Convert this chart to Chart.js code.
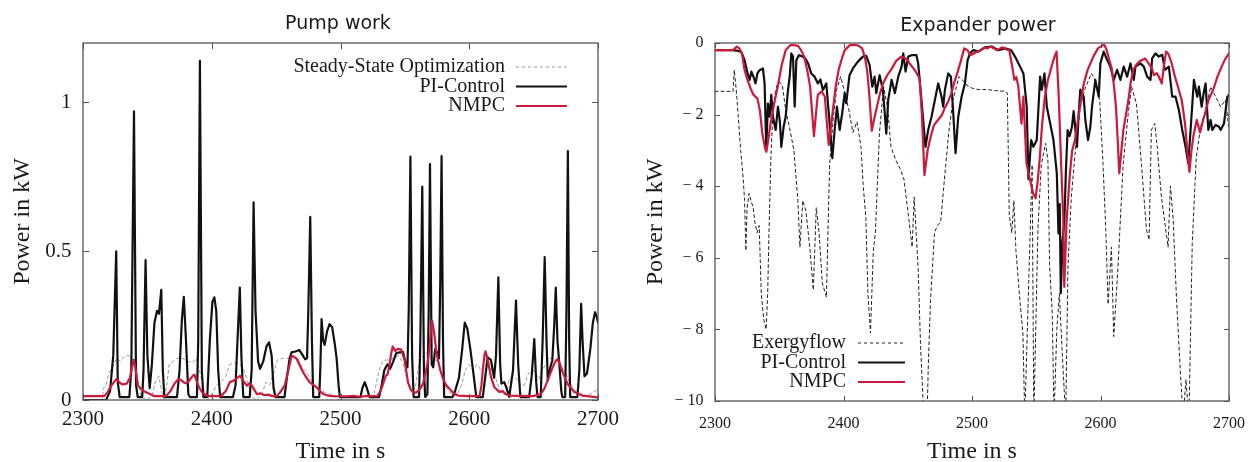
<!DOCTYPE html>
<html>
<head>
<meta charset="utf-8">
<script src="https://cdn.jsdelivr.net/npm/chart.js@4.4.1/dist/chart.umd.min.js"></script>
<style>
  html, body { margin: 0; padding: 0; background: #fff; overflow: hidden; width: 1255px; height: 462px; }
  #pump { position: absolute; left: 0; top: 0; }
  #expander { position: absolute; left: 620px; top: 0; }
</style>
</head>
<body>
<canvas id="pump" width="640" height="462"></canvas>
<canvas id="expander" width="640" height="462"></canvas>
<script>
// time axis and tick values
const timeTicks = [2300, 2400, 2500, 2600, 2700];
const pumpTicks = [0, 0.5, 1];
const expanderTicks = [-10, -8, -6, -4, -2, 0];

// Pump work [time s, kW]
const pumpSteady = [
  [2300,0],[2315,0],[2316,0.04],[2318,0.05],[2320,0.09],[2323,0.11],[2326,0.14],[2329,0.13],[2332,0.146],
  [2335,0.15],[2338,0.14],[2341,0.12],[2343,0.06],[2345,0.01],[2350,0],[2354,0.02],[2356,0.06],[2359,0.08],
  [2361,0.03],[2363,0],[2365,0.05],[2367,0.12],[2370,0.13],[2373,0.14],[2377,0.14],[2381,0.13],[2385,0.125],
  [2388,0.14],[2391,0.09],[2394,0.03],[2397,0],[2400,0.02],[2404,0.05],[2408,0.065],[2411,0.08],[2414,0.12],
  [2418,0.125],[2422,0.12],[2425,0.1],[2428,0.06],[2431,0.01],[2435,0],[2439,0.02],[2442,0.06],[2445,0.05],
  [2448,0.09],[2451,0.135],[2455,0.14],[2459,0.14],[2463,0.145],[2467,0.14],[2470,0.11],[2474,0.09],[2478,0.06],
  [2482,0.04],[2486,0.03],[2490,0.02],[2494,0.02],[2498,0],[2525,0],[2527,0.04],[2530,0.1],[2533,0.133],
  [2537,0.135],[2541,0.14],[2545,0.15],[2549,0.12],[2552,0.06],[2555,0.03],[2558,0.04],[2561,0.12],[2563,0.14],
  [2566,0.16],[2569,0.15],[2573,0.135],[2576,0.13],[2579,0.08],[2582,0.04],[2587,0.015],[2590,0.015],[2594,0.05],
  [2597,0.1],[2600,0.12],[2603,0.1],[2606,0.12],[2609,0.1],[2613,0.12],[2616,0.11],[2620,0.08],[2624,0.03],
  [2628,0.02],[2631,0.07],[2634,0.08],[2637,0.07],[2640,0.05],[2643,0.05],[2646,0.09],[2650,0.1],[2654,0.07],
  [2658,0.11],[2662,0.14],[2666,0.14],[2670,0.12],[2674,0.1],[2678,0.06],[2682,0.03],[2688,0.01],[2694,0.02],
  [2698,0.03],[2700,0.04]
];
const pumpPi = [
  [2300,0],[2318,0],[2321,0.03],[2323.5,0.15],[2325.8,0.5],[2327,0.06],[2328.5,0.01],[2336,0.01],[2337.5,0.1],
  [2339.6,0.97],[2341.2,0.05],[2342.5,0.01],[2346,0.01],[2347,0.1],[2348.6,0.47],[2350,0.15],[2351.8,0.04],
  [2353.5,0.12],[2355.5,0.26],[2357.5,0.3],[2359,0.29],[2360.8,0.37],[2362,0.1],[2363.2,0.01],[2373,0.01],
  [2375,0.1],[2376.8,0.27],[2378.3,0.347],[2380,0.2],[2381.8,0.02],[2383,0.01],[2388.5,0.01],[2389.5,0.2],
  [2390.8,1.14],[2392.3,0.1],[2393.5,0.01],[2396.5,0.01],[2398.5,0.2],[2400.5,0.33],[2402,0.345],[2403.5,0.3],
  [2405,0.1],[2406.5,0.01],[2416.5,0.01],[2418.5,0.05],[2420,0.2],[2421.8,0.378],[2423,0.15],[2424.5,0.01],
  [2429.5,0.01],[2431,0.1],[2432.5,0.664],[2434,0.3],[2436,0.13],[2437.5,0.105],[2440,0.13],[2442.5,0.18],
  [2444.5,0.194],[2446.5,0.15],[2448,0.04],[2449.5,0.01],[2456.5,0.01],[2458.5,0.08],[2460.5,0.14],[2462,0.16],
  [2465,0.163],[2468,0.168],[2470,0.155],[2472.5,0.137],[2474,0.14],[2475,0.3],[2476.5,0.616],[2477.8,0.2],
  [2478.8,0.01],[2483.5,0.01],[2484.3,0.1],[2485.3,0.272],[2486.5,0.2],[2487.7,0.185],[2489.5,0.23],
  [2491.5,0.255],[2493.5,0.245],[2495.5,0.19],[2497,0.14],[2498.5,0.05],[2499.5,0.01],[2515.5,0.01],
  [2517,0.04],[2518.8,0.06],[2520.5,0.04],[2522.5,0.01],[2530,0.01],[2532,0.05],[2534,0.1],[2536.5,0.12],
  [2538.5,0.105],[2541,0.13],[2543.3,0.158],[2546,0.16],[2548.5,0.162],[2550.5,0.125],[2552,0.11],[2553,0.3],
  [2554.3,0.818],[2555.6,0.15],[2556.8,0.01],[2561,0.01],[2562,0.2],[2563.5,0.717],[2564.8,0.1],[2565.8,0.01],
  [2567.5,0.02],[2568.5,0.3],[2569.5,0.793],[2570.8,0.12],[2572,0.11],[2573.5,0.17],[2575,0.16],[2576.5,0.14],
  [2577.5,0.4],[2578.5,0.82],[2579.6,0.2],[2580.5,0.01],[2587,0.01],[2589,0.03],[2592,0.075],[2594.5,0.17],
  [2596.5,0.26],[2598.5,0.24],[2601,0.166],[2603.5,0.08],[2605.5,0.01],[2610.5,0.01],[2612.5,0.08],
  [2614.3,0.143],[2616.8,0.135],[2619.3,0.075],[2620.8,0.15],[2622.6,0.412],[2624,0.12],[2625,0.055],
  [2627.2,0.06],[2629,0.04],[2631,0.01],[2634,0.1],[2636.3,0.334],[2638,0.12],[2639.7,0.01],[2646.5,0.01],
  [2648.5,0.08],[2650.5,0.205],[2652,0.06],[2653,0.01],[2655.5,0.01],[2657,0.2],[2658.6,0.48],[2660,0.2],
  [2661,0.066],[2663,0.11],[2664.5,0.133],[2666,0.25],[2667.2,0.378],[2668.5,0.2],[2670,0.12],[2671.5,0.03],
  [2672.3,0.01],[2674.5,0.01],[2675.5,0.3],[2676.6,0.837],[2677.6,0.2],[2678.4,0.01],[2684,0.01],[2685.5,0.1],
  [2686.9,0.323],[2688,0.2],[2689.5,0.08],[2691.5,0.09],[2694,0.17],[2696,0.26],[2697.7,0.295],[2699,0.28],
  [2700,0.26]
];
const pumpNmpc = [
  [2300,0.013],[2316.5,0.013],[2319,0.025],[2321.5,0.045],[2324,0.06],[2326,0.071],[2328.5,0.058],[2331,0.052],
  [2334,0.055],[2336.5,0.075],[2338,0.11],[2339.5,0.135],[2341,0.1],[2342.5,0.05],[2344.5,0.04],[2347,0.03],
  [2349,0.026],[2352,0.02],[2355.5,0.013],[2364.5,0.013],[2368,0.03],[2371,0.055],[2374,0.07],[2376,0.068],
  [2378,0.06],[2380,0.056],[2382.5,0.065],[2385,0.08],[2386.5,0.085],[2388.5,0.06],[2390.5,0.04],[2392.5,0.026],
  [2395,0.018],[2398,0.013],[2407,0.013],[2411,0.03],[2414,0.06],[2417,0.065],[2420,0.075],[2422,0.081],
  [2424.5,0.065],[2427.3,0.048],[2429,0.055],[2431,0.05],[2433,0.035],[2435,0.02],[2438,0.022],[2441,0.016],
  [2444,0.018],[2447,0.013],[2450.5,0.013],[2453,0.025],[2456.8,0.05],[2459.5,0.1],[2462,0.149],[2464,0.145],
  [2466,0.138],[2468.5,0.115],[2471,0.093],[2473.5,0.075],[2476,0.06],[2479,0.05],[2481.5,0.043],[2484,0.03],
  [2486.7,0.02],[2490,0.015],[2494.5,0.013],[2505,0.012],[2510,0.014],[2515,0.011],[2520,0.013],[2528.5,0.013],
  [2531,0.03],[2532.8,0.05],[2535,0.08],[2536.5,0.085],[2538,0.117],[2539.5,0.16],[2540.6,0.18],[2542.5,0.165],
  [2544.5,0.172],[2547,0.17],[2549.8,0.134],[2551,0.1],[2552.4,0.06],[2554.5,0.035],[2556.3,0.027],[2558.5,0.025],
  [2560.2,0.03],[2562.5,0.042],[2564.1,0.055],[2566,0.09],[2568,0.132],[2569.5,0.2],[2571.1,0.267],[2572.2,0.24],
  [2573.2,0.21],[2574.5,0.16],[2575.8,0.132],[2577.5,0.1],[2579.7,0.071],[2582,0.05],[2584.8,0.037],[2588,0.022],
  [2591.3,0.015],[2599,0.013],[2608,0.013],[2609.5,0.05],[2610.5,0.1],[2611.8,0.15],[2612.6,0.164],[2613.5,0.15],
  [2614.5,0.131],[2616.9,0.077],[2619.5,0.043],[2621.5,0.035],[2623.4,0.027],[2626,0.03],[2628,0.02],
  [2631.1,0.015],[2640,0.014],[2649.3,0.013],[2655.7,0.02],[2658.5,0.04],[2660.9,0.066],[2664.8,0.11],
  [2667,0.13],[2668.7,0.138],[2670.5,0.12],[2672.6,0.093],[2676.4,0.054],[2681.6,0.027],[2688,0.015],[2700,0.009]
];

// Expander power [time s, kW]
const expExergy = [
  [2300,-1.35],[2314,-1.35],[2315,-0.75],[2316.5,-1.3],[2318,-2],[2320,-3],[2322,-3.8],[2323,-4.4],[2324,-5.8],
  [2325,-4.6],[2326.5,-4.2],[2328,-4.4],[2329.7,-4.6],[2331,-5],[2332.8,-5.3],[2334.4,-5.1],[2336,-7],
  [2338,-7.74],[2339.8,-8],[2341,-7],[2342,-5.3],[2343.6,-3.1],[2345,-2],[2346.8,-1.4],[2348.5,-1.15],
  [2350.5,-1.1],[2352.5,-1.2],[2355,-1.87],[2358.2,-2.4],[2361.4,-3],[2364.5,-4.4],[2366.1,-5.7],[2368.3,-4.4],
  [2370.8,-4.7],[2374,-5.8],[2376.5,-6.9],[2378.8,-4.6],[2381,-5.3],[2383.5,-6.7],[2386.7,-7.1],[2389.2,-3.4],
  [2392.1,-2.06],[2394.6,-1.31],[2397.8,-0.94],[2401,-1.4],[2404.2,-1.87],[2407.3,-2.5],[2410.5,-2.2],
  [2413.6,-2.9],[2415.2,-3.9],[2417.4,-4.9],[2419,-7],[2421,-8.1],[2423.2,-5.8],[2424.8,-5.3],[2428,-2.5],
  [2431.2,-1.22],[2434.3,-1.78],[2436.9,-2.9],[2440.7,-3.27],[2443.9,-3.5],[2447,-3.8],[2450.8,-4.9],
  [2453.4,-5.7],[2455,-4.3],[2458.1,-6.3],[2460,-8.5],[2461.3,-9.5],[2462.5,-10.5],[2465,-10.5],[2466,-9],
  [2467.7,-7.2],[2470.8,-5.3],[2473,-5.1],[2475.6,-5],[2478.8,-3.7],[2481.9,-2.5],[2485.1,-1.6],[2489.9,-0.94],
  [2493,-1.05],[2497.1,-1.22],[2500.9,-1.27],[2505,-1.3],[2512,-1.3],[2518,-1.33],[2526.2,-1.35],[2527.5,-1.4],
  [2529,-4.8],[2531,-5.3],[2532.6,-4.4],[2534.2,-5.8],[2537.3,-7.2],[2539.6,-8.1],[2541.1,-10.5],[2543.7,-7.2],
  [2546.8,-3.4],[2548.1,-10.5],[2551.3,-5.2],[2553.9,-3.4],[2557.3,-2.8],[2559.1,-3.3],[2560.4,-6.2],
  [2562.5,-7.6],[2563.8,-10.5],[2566,-8],[2568,-7],[2570,-8.5],[2572.9,-10.5],[2574.7,-6.2],[2577.3,-4.3],
  [2580.7,-2.9],[2584.3,-1.78],[2587.7,-1.3],[2592.9,-0.85],[2595.5,-1],[2599.4,-1.6],[2602,-3.4],[2604.1,-5.2],
  [2605.9,-7.3],[2608.5,-5.7],[2610.3,-8.2],[2613.7,-6.2],[2617.6,-3.4],[2621.5,-2],[2624.1,-1.22],[2628,-1.7],
  [2631.9,-3.4],[2635.7,-5.2],[2637.8,-5.5],[2639.6,-2.43],[2642.2,-2.25],[2644.1,-2.9],[2647.4,-4.3],
  [2650,-5],[2652.6,-5.7],[2654.4,-4],[2656.5,-4.9],[2659.1,-7.1],[2661.7,-8.9],[2664.3,-10.5],[2666.5,-9.4],
  [2668.8,-10.5],[2671.4,-5.6],[2674.5,-3.2],[2677.9,-2.34],[2681.8,-1.87],[2685.7,-1.22],[2689.6,-1.5],
  [2693.5,-1.78],[2697.4,-1.59],[2700,-2.43]
];
const expPi = [
  [2300,-0.2],[2314,-0.2],[2318,-0.22],[2320.5,-0.25],[2323,-0.48],[2325.7,-0.9],[2327,-1.03],[2328.3,-0.8],
  [2330,-0.95],[2331.5,-1.13],[2333,-0.85],[2334.7,-0.76],[2337.3,-0.71],[2338.6,-1.13],[2339.9,-2.95],
  [2341.2,-1.69],[2342.5,-2.06],[2343.8,-1.45],[2345.1,-2.06],[2347.2,-2.43],[2349,-1.78],[2350.5,-2.2],
  [2351.6,-2.9],[2353.4,-2.34],[2355,-2.06],[2356.8,-1.31],[2358.1,-0.95],[2359.4,-0.29],[2360.7,-0.38],
  [2362,-1.78],[2363.3,-0.48],[2365.3,-0.34],[2368.5,-0.38],[2370.5,-0.45],[2372.4,-0.57],[2374.9,-0.85],
  [2377.5,-0.94],[2380.1,-1.13],[2382,-1.02],[2384,-1.31],[2386.6,-1.13],[2389.2,-2.24],[2391.3,-3.22],
  [2393.1,-2.43],[2394.9,-1.78],[2397,-2.43],[2399,-1.96],[2400.9,-1.4],[2402.1,-1.68],[2404.7,-0.9],
  [2407.3,-0.71],[2411.2,-0.52],[2415.1,-0.38],[2417.7,-0.36],[2420.3,-0.61],[2422.4,-1.22],[2424.2,-0.94],
  [2425.5,-1.4],[2428.1,-0.9],[2430.7,-1.31],[2433.3,-2.53],[2434.8,-1.59],[2437.4,-1.03],[2440,-1.4],
  [2442.6,-0.94],[2445.2,-0.66],[2446.5,-0.29],[2448.3,-0.8],[2450.4,-0.38],[2453,-0.34],[2456.8,-0.34],
  [2458.1,-0.57],[2460.2,-1.4],[2462,-2.15],[2463.8,-2.9],[2465.9,-2.43],[2468.5,-2.06],[2471.1,-1.59],
  [2473.7,-1.13],[2476.3,-1.5],[2477.6,-1.78],[2478.9,-1.31],[2481.5,-0.85],[2483.6,-0.94],[2485.4,-1.96],
  [2487.2,-3.08],[2489.3,-2.06],[2491.9,-1.5],[2494.5,-1.13],[2496.6,-0.48],[2498.4,-0.29],[2501,-0.2],
  [2504.9,-0.24],[2507.5,-0.18],[2510.1,-0.12],[2515.3,-0.1],[2520.5,-0.2],[2525.7,-0.15],[2530.4,-0.2],
  [2533.5,-0.38],[2537.4,-0.66],[2540,-0.85],[2542.6,-1.78],[2543.9,-3.8],[2546,-2.71],[2547.8,-2.9],
  [2550.4,-2.71],[2553,-0.94],[2554.3,-1.31],[2556.4,-0.85],[2558.2,-1.78],[2560.8,-2.24],[2563.4,-2.71],
  [2566,-3.64],[2567.3,-5.32],[2568.3,-4.5],[2569.1,-6.99],[2570.5,-5.5],[2571.8,-5.04],[2573.1,-3.55],
  [2574.4,-2.43],[2576,-2.6],[2577.8,-2.34],[2579.1,-1.9],[2580.4,-2.4],[2581.7,-2.9],[2583,-2],[2584.3,-1.3],
  [2586.9,-1.5],[2588.2,-2.15],[2590.3,-2.71],[2592.1,-2.34],[2593.4,-1.78],[2596,-1.03],[2598.6,-1.5],
  [2599.9,-0.57],[2602.5,-0.24],[2605.1,-0.47],[2607.7,-0.66],[2610.3,-1.03],[2612.9,-0.75],[2615.5,-1.03],
  [2618.1,-0.66],[2620.7,-0.94],[2623.3,-0.57],[2625.9,-1.03],[2627.2,-0.66],[2631.1,-0.57],[2633.7,-0.66],
  [2636.3,-0.94],[2638.9,-1.03],[2640.2,-0.43],[2642.8,-0.29],[2645.4,-0.38],[2648,-0.33],[2650.1,-0.75],
  [2653.2,-0.66],[2655.8,-1.5],[2658.4,-1.5],[2661,-1.87],[2663.6,-2.43],[2666.2,-2.9],[2668.3,-3.36],
  [2670.1,-2.43],[2672.7,-1.03],[2675.3,-1.5],[2676.6,-1.22],[2678.7,-1.78],[2680.5,-1.35],[2681.8,-1.13],
  [2683.9,-2.43],[2685.7,-2.15],[2687,-2.43],[2689.6,-2.29],[2692.2,-2.34],[2693.5,-2.43],[2696.1,-2.25],
  [2698.7,-1.5],[2700,-1.45]
];
const expNmpc = [
  [2300,-0.2],[2314,-0.2],[2317,-0.1],[2319,-0.15],[2321,-0.3],[2323,-0.75],[2325.3,-1.03],[2328,-1.3],
  [2330,-1.45],[2333,-1.55],[2335,-1.9],[2336.8,-2.52],[2339,-2.95],[2340,-3.04],[2341.5,-2.7],[2343,-2.3],
  [2346,-1.7],[2348.8,-1.22],[2352,-0.6],[2355,-0.2],[2358,-0.08],[2360,-0.05],[2364.6,-0.08],[2367,-0.2],
  [2369.4,-0.38],[2372,-0.8],[2374,-1.22],[2375.5,-1.9],[2377,-2.6],[2378.5,-2],[2380,-1.45],[2383,-1.35],
  [2385.5,-1.5],[2387,-2.2],[2388.5,-2.85],[2390,-2.4],[2392,-1.8],[2394,-1.2],[2396.2,-0.75],[2399,-0.4],
  [2401,-0.2],[2405,-0.06],[2409,-0.05],[2412,-0.08],[2414.5,-0.15],[2416.7,-0.4],[2418.5,-0.8],[2420,-1.41],
  [2422,-2.45],[2424,-2.1],[2426,-1.78],[2428.5,-1.4],[2430.8,-1.13],[2434,-0.9],[2437,-0.75],[2441,-0.5],
  [2445,-0.38],[2447.5,-0.42],[2449.7,-0.46],[2452,-0.6],[2454.5,-0.71],[2457,-0.85],[2459.2,-0.99],[2461,-2],
  [2463,-3.69],[2465.5,-2.99],[2468,-2.6],[2470.3,-2.3],[2473.5,-2.15],[2476.6,-2.01],[2479,-1.8],
  [2481.4,-1.64],[2484,-1.4],[2486,-1.13],[2488.5,-0.85],[2490.8,-0.57],[2494,-0.15],[2496.5,-0.2],
  [2498.7,-0.34],[2501,-0.3],[2503.5,-0.25],[2507,-0.2],[2509.8,-0.13],[2512,-0.15],[2514.5,-0.1],[2517,-0.15],
  [2519.3,-0.2],[2522,-0.15],[2524,-0.12],[2526.5,-0.18],[2529,-0.2],[2531,-0.6],[2533,-1.03],[2534.5,-0.95],
  [2536,-1.2],[2538.5,-2.25],[2540,-1.5],[2542.4,-3.36],[2545,-3.8],[2547.5,-4.2],[2549.5,-4.34],[2551,-3.9],
  [2552.8,-3.18],[2554.5,-2.3],[2556.7,-1.5],[2559,-1.05],[2561.9,-0.66],[2564,-0.4],[2565.8,-0.24],
  [2567.5,-1.5],[2569.5,-3.5],[2571,-4.86],[2571.8,-6.81],[2573.6,-5],[2576.2,-3.64],[2578,-3],[2580.1,-2.71],
  [2584,-1.78],[2587,-1.13],[2590,-0.75],[2594.4,-0.38],[2598,-0.15],[2600.9,-0.08],[2603,-0.05],[2604.8,-0.2],
  [2607,-0.5],[2608.7,-0.7],[2610.5,-1.2],[2612.1,-1.82],[2613.5,-2.8],[2614.6,-3.64],[2616,-3.1],
  [2617.8,-2.43],[2619.8,-2],[2621.7,-1.6],[2623.5,-1.1],[2625.6,-0.75],[2628,-0.6],[2630.8,-0.5],
  [2634.7,-0.43],[2637,-0.55],[2639.9,-0.7],[2641.5,-0.9],[2643.8,-0.84],[2645.5,-0.95],[2647.7,-1.13],
  [2649.5,-0.6],[2651,-0.24],[2652.8,-0.3],[2655.4,-0.57],[2658,-0.95],[2660.5,-1.25],[2663.2,-1.6],
  [2665.8,-2.25],[2667.5,-3],[2669.2,-3.6],[2670.8,-3],[2672.3,-2.6],[2674.9,-2.15],[2677.5,-2.5],
  [2679.5,-2.2],[2681.4,-1.97],[2684,-1.6],[2687.8,-1.3],[2691,-0.94],[2694.3,-0.66],[2697,-0.45],[2700,-0.29]
];

const serif = '"Liberation Serif", "Times New Roman", serif';
const ink = '#1a1a1a';
const red = '#cc1a3c';

function points(series) {
  return series.map(p => ({ x: p[0], y: p[1] }));
}

// frame, inward ticks, panel title and gnuplot-style legend
const panelDecor = {
  id: 'panelDecor',
  afterDatasetsDraw(chart, args, opts) {
    const { ctx, chartArea: a, scales: { x, y } } = chart;
    ctx.save();
    ctx.strokeStyle = '#555';
    ctx.lineWidth = 1;
    ctx.beginPath();
    x.ticks.forEach(t => {
      const px = Math.round(x.getPixelForValue(t.value)) + 0.5;
      ctx.moveTo(px, a.bottom); ctx.lineTo(px, a.bottom - opts.tickLen);
      ctx.moveTo(px, a.top); ctx.lineTo(px, a.top + opts.tickLen);
    });
    y.ticks.forEach(t => {
      const py = Math.round(y.getPixelForValue(t.value)) + 0.5;
      ctx.moveTo(a.left, py); ctx.lineTo(a.left + opts.tickLen, py);
      ctx.moveTo(a.right, py); ctx.lineTo(a.right - opts.tickLen, py);
    });
    ctx.stroke();
    ctx.lineWidth = 1.3;
    ctx.strokeRect(a.left, a.top, a.right - a.left, a.bottom - a.top);

    ctx.fillStyle = ink;
    ctx.font = '19px "DejaVu Sans", sans-serif';
    ctx.textAlign = 'center';
    ctx.textBaseline = 'alphabetic';
    ctx.fillText(opts.title, opts.titleX, opts.titleY);

    const lg = opts.legend;
    ctx.font = '20px ' + serif;
    ctx.textAlign = 'right';
    ctx.textBaseline = 'middle';
    chart.data.datasets.forEach((ds, i) => {
      const ly = lg.y + i * lg.step;
      ctx.fillStyle = ink;
      ctx.fillText(ds.label, lg.textRight, ly);
      ctx.beginPath();
      ctx.strokeStyle = ds.borderColor;
      ctx.lineWidth = ds.borderWidth;
      ctx.setLineDash(ds.borderDash || []);
      ctx.moveTo(lg.lineFrom, ly);
      ctx.lineTo(lg.lineTo, ly);
      ctx.stroke();
      ctx.setLineDash([]);
    });
    ctx.restore();
  }
};

function makeChart(canvas, cfg) {
  return new Chart(canvas, {
    type: 'line',
    data: { datasets: cfg.datasets },
    options: {
      responsive: false,
      animation: false,
      devicePixelRatio: 1,
      layout: { padding: cfg.padding },
      elements: { point: { radius: 0 }, line: { tension: 0, borderCapStyle: 'round', borderJoinStyle: 'round' } },
      plugins: {
        legend: { display: false },
        tooltip: { enabled: false },
        panelDecor: cfg.decor
      },
      scales: {
        x: {
          type: 'linear', min: 2300, max: 2700,
          afterBuildTicks: s => { s.ticks = timeTicks.map(v => ({ value: v })); },
          afterFit: s => { s.height = cfg.xHeight; },
          grid: { display: false, drawTicks: false },
          border: { display: false },
          ticks: { color: ink, padding: cfg.xTickPad, maxRotation: 0, autoSkip: false,
                   font: { family: serif, size: cfg.xTickSize },
                   callback: v => String(v) },
          title: { display: true, text: 'Time in s', color: ink, padding: { top: 0, bottom: 0 },
                   font: { family: serif, size: 24, lineHeight: 0.85 } }
        },
        y: {
          type: 'linear', min: cfg.yMin, max: cfg.yMax,
          afterBuildTicks: s => { s.ticks = cfg.yTicks.map(v => ({ value: v })); },
          afterFit: s => { s.width = cfg.yWidth; },
          grid: { display: false, drawTicks: false },
          border: { display: false },
          ticks: { color: ink, padding: 11.5, font: { family: serif, size: cfg.yTickSize },
                   callback: cfg.yFormat },
          title: { display: true, text: 'Power in kW', color: ink, padding: { top: cfg.yTitlePad, bottom: 0 },
                   font: { family: serif, size: 24, lineHeight: 0.85 } }
        }
      }
    },
    plugins: [panelDecor]
  });
}

makeChart(document.getElementById('pump'), {
  padding: { top: 43, right: 42, bottom: 0, left: 0 },
  xHeight: 62, yWidth: 83, xTickPad: 6.5, xTickSize: 21, yTickSize: 21, yTitlePad: 12.8,
  yMin: 0, yMax: 1.2, yTicks: pumpTicks,
  yFormat: v => String(v),
  decor: {
    tickLen: 6, title: 'Pump work', titleX: 338, titleY: 29,
    legend: { textRight: 505, y: 67, step: 19.5, lineFrom: 516, lineTo: 567 }
  },
  datasets: [
    { label: 'Steady-State Optimization', data: points(pumpSteady), borderColor: '#9b9b9b',
      borderWidth: 1, borderDash: [3, 3], order: 3 },
    { label: 'PI-Control', data: points(pumpPi), borderColor: '#111', borderWidth: 2.2, order: 2 },
    { label: 'NMPC', data: points(pumpNmpc), borderColor: red, borderWidth: 2.2, order: 1 }
  ]
});

makeChart(document.getElementById('expander'), {
  padding: { top: 43, right: 31, bottom: 0, left: 0 },
  xHeight: 61, yWidth: 95, xTickPad: 13, xTickSize: 16, yTickSize: 16, yTitlePad: 25.4,
  yMin: -10, yMax: 0, yTicks: expanderTicks,
  yFormat: v => (v < 0 ? '\u2212 ' + Math.abs(v) : '0'),
  decor: {
    tickLen: 5, title: 'Expander power', titleX: 358, titleY: 30.5,
    legend: { textRight: 226, y: 343, step: 19.5, lineFrom: 238, lineTo: 285 }
  },
  datasets: [
    { label: 'Exergyflow', data: points(expExergy), borderColor: '#222', borderWidth: 1,
      borderDash: [3, 3], order: 3 },
    { label: 'PI-Control', data: points(expPi), borderColor: '#111', borderWidth: 2.2, order: 2 },
    { label: 'NMPC', data: points(expNmpc), borderColor: red, borderWidth: 2.2, order: 1 }
  ]
});
</script>
</body>
</html>
